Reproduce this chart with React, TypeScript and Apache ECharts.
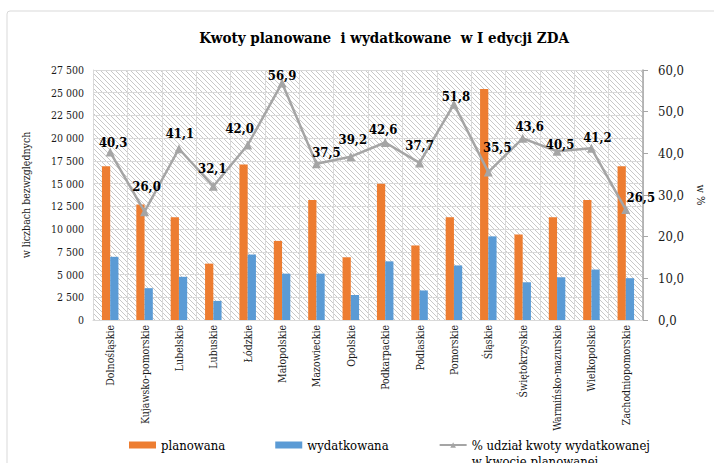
import React, { useEffect, useRef } from "react";
import * as echarts from "echarts";

const categories = [
  "Dolnośląskie", "Kujawsko-pomorskie", "Lubelskie", "Lubuskie", "Łódzkie",
  "Małopolskie", "Mazowieckie", "Opolskie", "Podkarpackie", "Podlaskie",
  "Pomorskie", "Śląskie", "Świętokrzyskie", "Warmińsko-mazurskie",
  "Wielkopolskie", "Zachodniopomorskie",
];
const planowana = [16900, 12700, 11300, 6200, 17100, 8700, 13200, 6900, 15000, 8200, 11300, 25400, 9400, 11300, 13200, 16900];
const wydatkowana = [6950, 3500, 4750, 2100, 7200, 5100, 5100, 2750, 6450, 3250, 6000, 9200, 4150, 4700, 5550, 4600];
const udzial = [40.3, 26.0, 41.1, 32.1, 42.0, 56.9, 37.5, 39.2, 42.6, 37.7, 51.8, 35.5, 43.6, 40.5, 41.2, 26.5];
const labelOffsets = [
  [3, 1], [2, -14], [1, -4], [-1, -7], [-8, -6], [0, 4], [10, 0], [2, -6],
  [-2, -2], [0, -6], [2, 3], [9, -14], [7, -1], [3, 4], [6, 0], [15, -1],
];
const leftTicks = { min: 0, max: 27500, interval: 2500 };
const rightTicks = { min: 0, max: 60, interval: 10 };

const SERIF = "DejaVu Serif Condensed";

function makeHatch() {
  const s = 5;
  const c = document.createElement("canvas");
  c.width = s;
  c.height = s;
  const ctx = c.getContext("2d")!;
  ctx.fillStyle = "#ffffff";
  ctx.fillRect(0, 0, s, s);
  ctx.strokeStyle = "#c8c8c8";
  ctx.lineWidth = 1;
  ctx.beginPath();
  ctx.moveTo(-1, -1);
  ctx.lineTo(s + 1, s + 1);
  ctx.moveTo(-1, s - 1);
  ctx.lineTo(1, s + 1);
  ctx.moveTo(s - 1, -1);
  ctx.lineTo(s + 1, 1);
  ctx.stroke();
  return c;
}

export default function App() {
  const ref = useRef<HTMLDivElement>(null);
  useEffect(() => {
    if (!ref.current) return;
    const chart = echarts.init(ref.current, null, { renderer: "svg" });
    const hatch = makeHatch();
    const fmtThousands = (v: number) => String(v).replace(/\B(?=(\d{3})+(?!\d))/g, " ");
    const fmtComma = (v: number) => v.toFixed(1).replace(".", ",");
    const lineName = "% udział kwoty wydatkowanej\nw kwocie planowanej";
    chart.setOption({
      animation: false,
      backgroundColor: "#ffffff",
      textStyle: { fontFamily: SERIF },
      title: {
        text: "Kwoty planowane  i wydatkowane  w I edycji ZDA",
        left: 379,
        textAlign: "center",
        top: 25,
        textStyle: { fontFamily: SERIF, fontSize: 15, fontWeight: "bold", color: "#000" },
      },
      graphic: [
        {
          type: "rect",
          z: -10,
          shape: { x: 7, y: 11, width: 800, height: 600, r: 3 },
          style: { fill: "none", stroke: "#d9d9d9", lineWidth: 1 },
        },
      ],
      grid: {
        left: 93,
        right: 43,
        top: 70,
        bottom: 143,
        show: true,
        borderWidth: 0,
        backgroundColor: { image: hatch, repeat: "repeat", imageWidth: 5, imageHeight: 5 },
      },
      legend: {
        left: 124,
        top: 416,
        width: 590,
        itemWidth: 27,
        itemHeight: 7,
        itemGap: 50,
        textStyle: { fontFamily: SERIF, fontSize: 13, color: "#000", lineHeight: 16 },
        formatter: (name: string) => (name === lineName ? "\n" + name : name),
        data: [
          { name: "planowana", icon: "rect" },
          { name: "wydatkowana", icon: "rect" },
          { name: lineName },
        ],
      },
      xAxis: {
        type: "category",
        data: categories,
        boundaryGap: true,
        axisLine: { show: true, lineStyle: { color: "#d9d9d9" } },
        axisTick: { show: false },
        splitLine: { show: true, lineStyle: { color: "#d9d9d9", width: 1 } },
        axisLabel: {
          rotate: 90,
          interval: 0,
          margin: 5,
          fontFamily: SERIF,
          fontSize: 10.5,
          color: "#1a1a1a",
        },
      },
      yAxis: [
        {
          type: "value",
          ...leftTicks,
          name: "w liczbach bezwzględnych",
          nameLocation: "middle",
          nameGap: 62,
          nameRotate: 90,
          nameTextStyle: { fontFamily: SERIF, fontSize: 10.5, color: "#1a1a1a" },
          axisLine: { show: true, lineStyle: { color: "#d9d9d9" } },
          axisTick: { show: false },
          splitLine: { show: true, lineStyle: { color: "#d9d9d9", width: 1 } },
          axisLabel: {
            margin: 9,
            fontFamily: SERIF,
            fontSize: 10.5,
            color: "#1a1a1a",
            formatter: fmtThousands,
          },
        },
        {
          type: "value",
          ...rightTicks,
          position: "right",
          name: "w %",
          nameLocation: "middle",
          nameGap: 52,
          nameRotate: -90,
          nameTextStyle: { fontFamily: SERIF, fontSize: 11, color: "#1a1a1a" },
          axisLine: { show: true, lineStyle: { color: "#a6a6a6", width: 1.5 } },
          axisTick: { show: true, inside: false, length: 5, lineStyle: { color: "#a6a6a6" } },
          splitLine: { show: false },
          axisLabel: {
            margin: 15,
            fontFamily: SERIF,
            fontSize: 13,
            color: "#1a1a1a",
            formatter: fmtComma,
          },
        },
      ],
      series: [
        {
          name: "planowana",
          type: "bar",
          data: planowana,
          barGap: "0%",
          barCategoryGap: "52%",
          itemStyle: { color: "#ED7D31" },
        },
        {
          name: "wydatkowana",
          type: "bar",
          data: wydatkowana,
          barGap: "0%",
          barCategoryGap: "52%",
          itemStyle: { color: "#5B9BD5" },
        },
        {
          name: lineName,
          type: "line",
          yAxisIndex: 1,
          symbol: "triangle",
          symbolSize: 9,
          lineStyle: { color: "#A5A5A5", width: 2.5 },
          itemStyle: { color: "#A5A5A5" },
          data: udzial.map((v, i) => ({
            value: v,
            label: { offset: labelOffsets[i] },
          })),
          label: {
            show: true,
            position: "top",
            distance: 0,
            fontFamily: SERIF,
            fontSize: 13,
            fontWeight: "bold",
            color: "#000",
            formatter: (p: any) => fmtComma(p.value),
          },
          z: 5,
        },
      ],
    });
    return () => chart.dispose();
  }, []);
  return (
    <div
      ref={ref}
      style={{ position: "fixed", left: 0, top: 0, width: 714, height: 463 }}
    />
  );
}
